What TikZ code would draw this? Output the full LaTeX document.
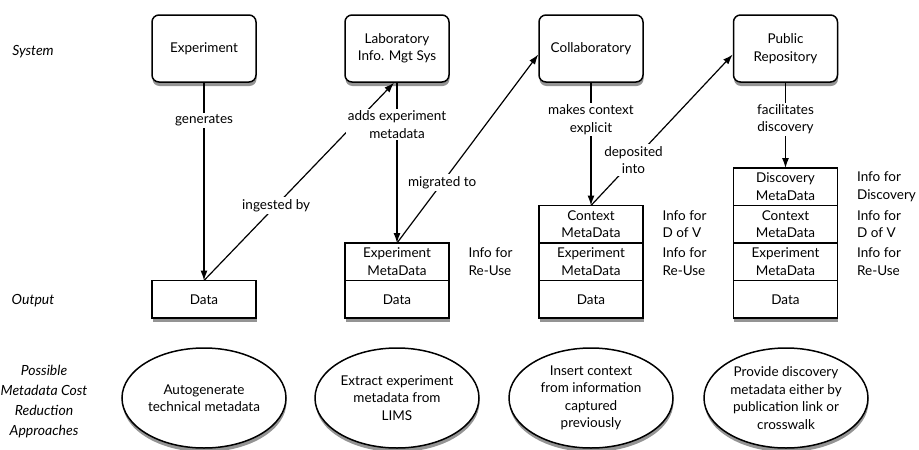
\documentclass[tikz,border=0pt]{standalone}
\usepackage{fontspec}
\setmainfont{Lato}
\usetikzlibrary{arrows.meta,shapes,positioning,shadows}

\begin{document}
\begin{tikzpicture}[->,>={Latex[length=10pt,width=7pt]},x=1pt,y=-1pt,line width=1.2pt,
	every node/.style={font=\fontsize{13.5}{17.5}\selectfont},
	box shadow/.style={drop shadow={shadow xshift=0.5pt,shadow yshift=-4pt,opacity=0.6,fill=black!70}},
	sys node/.style={rectangle,rounded corners=7pt,draw,fill=white,line width=1.5pt,
		minimum width=104pt,minimum height=67pt,align=center,box shadow},
	cell node/.style={rectangle,draw,fill=white,line width=1.5pt,minimum width=104pt,
		minimum height=37.5pt,inner sep=2pt,outer sep=0pt,align=center,box shadow},
	idea node/.style={ellipse,draw,fill=white,line width=1.5pt,minimum width=164pt,
		minimum height=100pt,inner sep=0pt,align=center,box shadow},
	row label/.style={font=\itshape\fontsize{14}{20}\selectfont,align=center},
	info label/.style={align=left,inner sep=0pt},
	edge label/.style={fill=white,align=center,inner sep=2pt}]

	\useasboundingbox (0,0) rectangle (919,450);

	% row labels
	\node[row label] (sysrow) at (33,52) {System};
	\node[row label] (outrow) at (33,301) {Output};
	\node[row label] (costrow) at (44,402) {Possible\\Metadata Cost\\Reduction\\Approaches};

	% systems
	\node[sys node] (exp1) at (204,48.5) {Experiment};
	\node[sys node] (lims) at (397,48.5) {Laboratory\\Info. Mgt Sys};
	\node[sys node] (collab) at (591,48.5) {Collaboratory};
	\node[sys node] (pub) at (785.5,48.5) {Public\\Repository};

	% outputs, stacked from the top down
	\node[cell node] (data1) at (204,299.25) {Data};

	\node[cell node] (exp2) at (397,261.75) {Experiment\\MetaData};
	\node[cell node] (data2) [below=0pt of exp2] {Data};

	\node[cell node] (ctx3) at (591,224.25) {Context\\MetaData};
	\node[cell node] (exp3) [below=0pt of ctx3] {Experiment\\MetaData};
	\node[cell node] (data3) [below=0pt of exp3] {Data};

	\node[cell node] (disc4) at (785.5,186.75) {Discovery\\MetaData};
	\node[cell node] (ctx4) [below=0pt of disc4] {Context\\MetaData};
	\node[cell node] (exp4) [below=0pt of ctx4] {Experiment\\MetaData};
	\node[cell node] (data4) [below=0pt of exp4] {Data};

	% info labels
	\node[info label] (reuse2) [right=19pt of exp2] {Info for\\Re-Use};
	\node[info label] (dofv3) [right=19pt of ctx3] {Info for\\D of V};
	\node[info label] (reuse3) [right=19pt of exp3] {Info for\\Re-Use};
	\node[info label] (disc4info) [right=19pt of disc4] {Info for\\Discovery};
	\node[info label] (dofv4) [right=19pt of ctx4] {Info for\\D of V};
	\node[info label] (reuse4) [right=19pt of exp4] {Info for\\Re-Use};

	% approaches
	\node[idea node] (idea1) at (204,398) {Autogenerate\\technical metadata};
	\node[idea node] (idea2) at (397,398) {Extract experiment\\metadata from\\LIMS};
	\node[idea node] (idea3) at (591,398) {Insert context\\from information\\captured\\previously};
	\node[idea node] (idea4) at (786,398) {Provide discovery\\metadata either by\\publication link or\\crosswalk};

	\path
	(exp1) edge node[edge label,pos=0.19] {generates} (data1)
	(data1.north) edge node[edge label,pos=0.38] {ingested by} ([xshift=-3pt]lims.south)
	(lims) edge node[edge label,pos=0.26] {adds experiment\\metadata} (exp2)
	(exp2.north) edge node[edge label,pos=0.32] {migrated to} ([yshift=-6pt]collab.west)
	(collab) edge node[edge label,pos=0.3] {makes context\\explicit} (ctx3)
	(ctx3.north) edge node[edge label,pos=0.3] {deposited\\into} ([yshift=-6pt]pub.west)
	(pub) edge node[edge label,pos=0.43] {facilitates\\discovery} (disc4);

\end{tikzpicture}
\end{document}
